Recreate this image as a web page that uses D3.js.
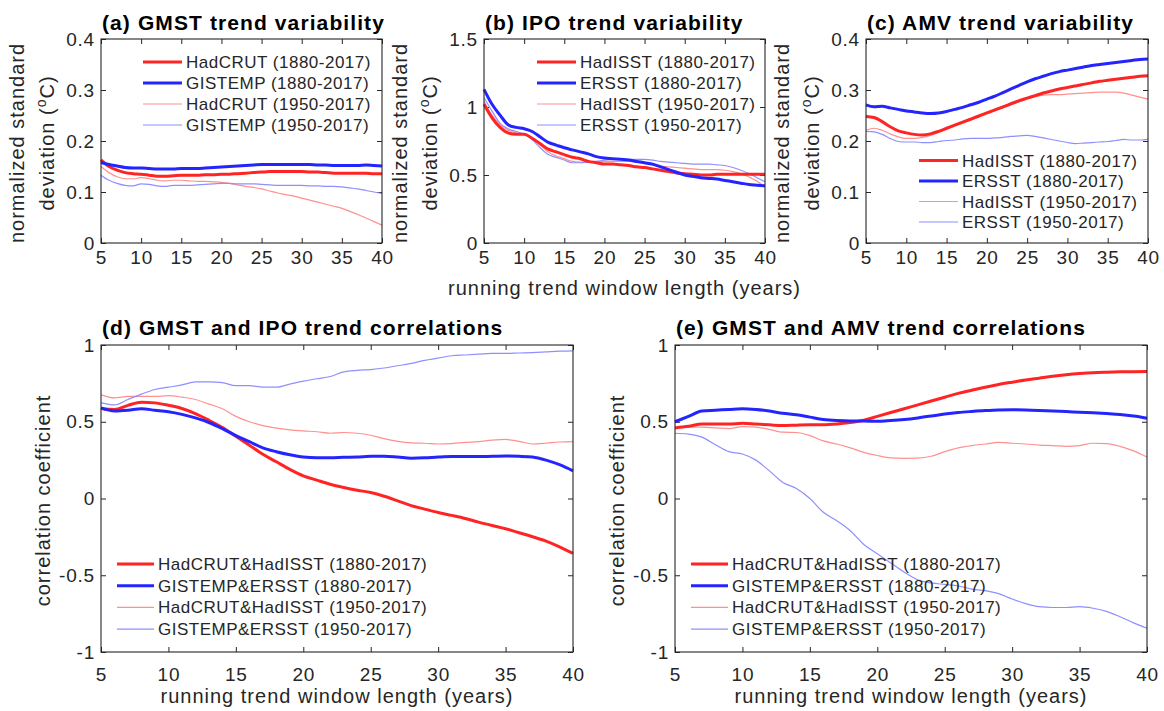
<!DOCTYPE html>
<html>
<head>
<meta charset="utf-8">
<script src="https://cdn.jsdelivr.net/npm/d3@7"></script>
<style>
  body { margin: 0; background: #fff; }
  svg { display: block; font-family: "Liberation Sans", Arial, Helvetica, sans-serif; }
  .tick text { fill: #262626; }
</style>
</head>
<body>
<script>
// window lengths (years)
const YEARS = [5, 6, 7, 8, 9, 10, 11, 12, 13, 14, 15, 16, 17, 18, 19, 20, 21, 22,
  23, 24, 25, 26, 27, 28, 29, 30, 31, 32, 33, 34, 35, 36, 37, 38, 39, 40];
const X_TICKS = [5, 10, 15, 20, 25, 30, 35, 40];

// (a) GMST trend variability
const A_HADCRUT_1880 = [.163, .150, .143, .138, .136, .135, .133, .131, .131, .132, .133, .133,
  .133, .134, .134, .135, .135, .136, .137, .138, .139, .140, .140, .140,
  .140, .140, .139, .139, .138, .137, .137, .137, .137, .137, .136, .136];
const A_GISTEMP_1880 = [.158, .154, .151, .148, .147, .147, .146, .145, .145, .145, .146, .146,
  .146, .147, .148, .149, .150, .151, .152, .153, .154, .154, .154, .154,
  .154, .154, .154, .153, .153, .152, .152, .152, .152, .153, .152, .151];
const A_HADCRUT_1950 = [.150, .138, .130, .126, .126, .128, .126, .123, .122, .123, .123, .122,
  .121, .121, .120, .119, .117, .114, .111, .109, .106, .102, .098, .095,
  .092, .088, .084, .080, .076, .072, .068, .062, .056, .049, .042, .035];
const A_GISTEMP_1950 = [.133, .123, .117, .113, .112, .116, .115, .112, .111, .113, .113, .113,
  .114, .115, .116, .117, .117, .116, .116, .116, .115, .114, .113, .113,
  .113, .113, .112, .112, .111, .111, .110, .108, .106, .103, .100, .097];

// (b) IPO trend variability
const B_HADISST_1880 = [1.02, .92, .85, .81, .80, .80, .77, .73, .69, .67, .65, .63,
  .62, .60, .59, .58, .58, .575, .57, .56, .555, .545, .535, .525,
  .515, .51, .505, .50, .50, .505, .505, .505, .505, .505, .505, .505];
const B_ERSST_1880 = [1.13, 1.02, .94, .87, .85, .84, .82, .78, .74, .72, .70, .685,
  .67, .655, .635, .625, .62, .615, .61, .60, .59, .58, .56, .54,
  .52, .50, .49, .48, .475, .47, .46, .45, .44, .43, .425, .42];
const B_HADISST_1950 = [1.04, .94, .87, .83, .81, .80, .77, .72, .67, .64, .62, .60,
  .595, .595, .60, .60, .60, .60, .60, .595, .585, .575, .565, .56,
  .555, .55, .545, .54, .54, .54, .535, .525, .51, .485, .455, .41];
const B_ERSST_1950 = [1.07, .97, .88, .84, .82, .80, .76, .70, .65, .63, .61, .59,
  .59, .595, .60, .61, .615, .615, .615, .615, .615, .61, .60, .595,
  .59, .585, .58, .58, .58, .575, .57, .555, .535, .51, .48, .45];

// (c) AMV trend variability
const C_HADISST_1880 = [.248, .246, .238, .228, .220, .216, .213, .212, .214, .219, .225, .231,
  .237, .243, .249, .255, .261, .267, .273, .279, .284, .289, .294, .298,
  .302, .305, .308, .311, .314, .317, .319, .321, .323, .325, .327, .328];
const C_ERSST_1880 = [.271, .267, .268, .265, .262, .259, .257, .255, .254, .255, .258, .262,
  .266, .271, .276, .282, .288, .295, .302, .309, .316, .322, .327, .332,
  .336, .339, .342, .345, .348, .350, .352, .354, .356, .358, .360, .361];
const C_HADISST_1950 = [.221, .225, .221, .214, .208, .205, .205, .207, .211, .217, .223, .229,
  .235, .241, .247, .253, .259, .265, .271, .277, .282, .287, .290, .291,
  .291, .292, .293, .294, .295, .296, .296, .296, .294, .290, .286, .282];
const C_ERSST_1950 = [.219, .218, .213, .205, .199, .198, .198, .197, .197, .199, .201, .202,
  .204, .205, .205, .205, .206, .207, .209, .210, .211, .209, .206, .203,
  .200, .197, .195, .196, .197, .198, .199, .201, .203, .202, .202, .203];

// (d) GMST and IPO trend correlations
const D_HAD_1880 = [.586, .58, .607, .627, .623, .607, .586, .553, .51, .462, .405, .347,
  .288, .239, .19, .148, .12, .093, .072, .054, .039, .015, -.015, -.046,
  -.069, -.091, -.11, -.13, -.154, -.176, -.197, -.223, -.249, -.278, -.315, -.358];
const D_GIS_1880 = [.59, .57, .575, .585, .575, .565, .548, .525, .495, .455, .41, .37,
  .33, .305, .285, .27, .265, .265, .268, .27, .275, .275, .27, .263,
  .265, .27, .273, .273, .273, .275, .277, .275, .27, .25, .22, .18];
const D_HAD_1950 = [.675, .655, .665, .665, .665, .67, .66, .645, .615, .585, .535, .50,
  .475, .458, .447, .44, .435, .425, .43, .425, .412, .39, .372, .362,
  .36, .355, .358, .365, .37, .38, .385, .372, .355, .36, .368, .37];
const D_GIS_1950 = [.625, .61, .645, .68, .71, .725, .74, .76, .76, .755, .735, .735,
  .725, .725, .745, .765, .78, .795, .825, .835, .84, .85, .865, .88,
  .90, .915, .93, .935, .94, .945, .945, .948, .95, .955, .96, .962];

// (e) GMST and AMV trend correlations
const E_HAD_1880 = [.46, .47, .485, .485, .485, .49, .485, .48, .475, .478, .48, .48,
  .485, .495, .51, .535, .56, .585, .61, .635, .66, .685, .705, .725,
  .743, .758, .772, .784, .796, .806, .814, .82, .823, .825, .826, .827];
const E_GIS_1880 = [.50, .535, .57, .575, .58, .585, .58, .57, .555, .545, .53, .515,
  .508, .505, .505, .503, .508, .515, .525, .537, .55, .56, .567, .573,
  .577, .578, .577, .574, .57, .566, .562, .558, .553, .547, .537, .523];
const E_HAD_1950 = [.46, .465, .465, .46, .455, .468, .465, .45, .432, .43, .41, .375,
  .355, .33, .30, .28, .265, .262, .263, .275, .305, .33, .345, .355,
  .365, .36, .355, .348, .345, .34, .345, .36, .358, .34, .31, .27];
const E_GIS_1950 = [.425, .42, .40, .35, .305, .29, .25, .18, .105, .065, 0, -.09,
  -.145, -.21, -.30, -.36, -.42, -.48, -.53, -.55, -.56, -.57, -.59, -.60,
  -.62, -.655, -.685, -.705, -.71, -.71, -.705, -.715, -.735, -.77, -.81, -.845];

const SD_TICKS = [0, 0.1, 0.2, 0.3, 0.4];
const IPO_TICKS = [0, 0.5, 1, 1.5];
const R_TICKS = [-1, -0.5, 0, 0.5, 1];

const STYLES = [
  {color: '#ff2424', width: 3},
  {color: '#2424ff', width: 3},
  {color: '#ff9090', width: 1.2},
  {color: '#8f8fff', width: 1.2}
];
const INK = '#262626';

const panels = [
  {title: '(a) GMST trend variability', x0: 101, x1: 382, y0: 39, y1: 243, titleY: 30,
    domain: [0, 0.4], ticks: SD_TICKS,
    names: ['HadCRUT (1880-2017)', 'GISTEMP (1880-2017)', 'HadCRUT (1950-2017)', 'GISTEMP (1950-2017)'],
    series: [A_HADCRUT_1880, A_GISTEMP_1880, A_HADCRUT_1950, A_GISTEMP_1950],
    legend: {x: 143, y: 62, dy: 21, len: 39}, ylab: 'sd', xTickY: 264},
  {title: '(b) IPO trend variability', x0: 484, x1: 765, y0: 39, y1: 243, titleY: 30,
    domain: [0, 1.5], ticks: IPO_TICKS,
    names: ['HadISST (1880-2017)', 'ERSST (1880-2017)', 'HadISST (1950-2017)', 'ERSST (1950-2017)'],
    series: [B_HADISST_1880, B_ERSST_1880, B_HADISST_1950, B_ERSST_1950],
    legend: {x: 537, y: 62, dy: 21, len: 39}, ylab: 'sd', xTickY: 264,
    xlab: {y: 295}},
  {title: '(c) AMV trend variability', x0: 866, x1: 1148, y0: 39, y1: 243, titleY: 30,
    domain: [0, 0.4], ticks: SD_TICKS,
    names: ['HadISST (1880-2017)', 'ERSST (1880-2017)', 'HadISST (1950-2017)', 'ERSST (1950-2017)'],
    series: [C_HADISST_1880, C_ERSST_1880, C_HADISST_1950, C_ERSST_1950],
    legend: {x: 919, y: 160.5, dy: 20.5, len: 39}, ylab: 'sd', xTickY: 264},
  {title: '(d) GMST and IPO trend correlations', x0: 101, x1: 573, y0: 345, y1: 652, titleY: 335,
    domain: [-1, 1], ticks: R_TICKS,
    names: ['HadCRUT&HadISST (1880-2017)', 'GISTEMP&ERSST (1880-2017)', 'HadCRUT&HadISST (1950-2017)', 'GISTEMP&ERSST (1950-2017)'],
    series: [D_HAD_1880, D_GIS_1880, D_HAD_1950, D_GIS_1950],
    legend: {x: 117, y: 564, dy: 21.7, len: 37}, ylab: 'r', xTickY: 681,
    xlab: {y: 703}},
  {title: '(e) GMST and AMV trend correlations', x0: 675, x1: 1147, y0: 345, y1: 652, titleY: 335,
    domain: [-1, 1], ticks: R_TICKS,
    names: ['HadCRUT&HadISST (1880-2017)', 'GISTEMP&ERSST (1880-2017)', 'HadCRUT&HadISST (1950-2017)', 'GISTEMP&ERSST (1950-2017)'],
    series: [E_HAD_1880, E_GIS_1880, E_HAD_1950, E_GIS_1950],
    legend: {x: 691, y: 564, dy: 21.7, len: 37}, ylab: 'r', xTickY: 681,
    xlab: {y: 703}}
];

const svg = d3.select('body').append('svg')
  .attr('width', 1164)
  .attr('height', 711);

panels.forEach(p => {
  const x = d3.scaleLinear().domain([5, 40]).range([p.x0, p.x1]);
  const y = d3.scaleLinear().domain(p.domain).range([p.y1, p.y0]);
  const g = svg.append('g');
  const fmt = d => String(d);

  // axes, ticks pointing inward on all four sides
  const axes = [
    [d3.axisBottom(x).tickValues(X_TICKS).tickFormat(fmt), `translate(0,${p.y1})`],
    [d3.axisTop(x).tickValues(X_TICKS).tickFormat(''), `translate(0,${p.y0})`],
    [d3.axisLeft(y).tickValues(p.ticks).tickFormat(fmt), `translate(${p.x0},0)`],
    [d3.axisRight(y).tickValues(p.ticks).tickFormat(''), `translate(${p.x1},0)`]
  ];
  const axisGroups = axes.map(([ax, tr]) => {
    const a = g.append('g')
      .attr('transform', tr)
      .call(ax.tickSizeInner(-5).tickSizeOuter(0).tickPadding(6));
    a.select('.domain').remove();
    a.selectAll('.tick line').attr('stroke', INK).attr('stroke-width', 1);
    a.selectAll('.tick text')
      .style('font-size', '19px')
      .style('letter-spacing', '0.8px');
    return a;
  });
  // bottom tick labels at the measured baseline
  axisGroups[0].selectAll('.tick text')
    .attr('dy', null)
    .attr('y', p.xTickY - p.y1);

  // lines
  const line = (vals) => d3.line()
    .x((d, i) => x(YEARS[i]))
    .y(d => y(d))
    .curve(d3.curveMonotoneX)(vals);

  [2, 3, 0, 1].forEach(k => {
    g.append('path')
      .attr('d', line(p.series[k]))
      .attr('fill', 'none')
      .attr('stroke', STYLES[k].color)
      .attr('stroke-width', STYLES[k].width)
      .attr('stroke-linejoin', 'round');
  });

  // box
  g.append('rect')
    .attr('x', p.x0).attr('y', p.y0)
    .attr('width', p.x1 - p.x0).attr('height', p.y1 - p.y0)
    .attr('fill', 'none').attr('stroke', INK).attr('stroke-width', 1.1);

  // title
  g.append('text')
    .attr('x', p.x0 + 1).attr('y', p.titleY)
    .style('font-size', '21px').style('font-weight', 'bold')
    .style('letter-spacing', '1.1px')
    .attr('fill', '#000')
    .text(p.title);

  // legend
  const lg = g.append('g');
  p.names.forEach((name, k) => {
    const ly = p.legend.y + k * p.legend.dy;
    lg.append('line')
      .attr('x1', p.legend.x).attr('x2', p.legend.x + p.legend.len)
      .attr('y1', ly).attr('y2', ly)
      .attr('stroke', STYLES[k].color).attr('stroke-width', STYLES[k].width);
    lg.append('text')
      .attr('x', p.legend.x + p.legend.len + 4).attr('y', ly + 6)
      .style('font-size', '17px').style('letter-spacing', '0.5px')
      .attr('fill', INK)
      .text(name);
  });

  // y label
  const cy = (p.y0 + p.y1) / 2;
  if (p.ylab === 'sd') {
    g.append('text')
      .attr('transform', `translate(${p.x0 - 84 + 7},${cy + 2}) rotate(-90)`)
      .attr('text-anchor', 'middle')
      .style('font-size', '20px').style('letter-spacing', '1px')
      .attr('fill', INK)
      .text('normalized standard');
    const t2 = g.append('text')
      .attr('transform', `translate(${p.x0 - 54 + 7},${cy + 2}) rotate(-90)`)
      .attr('text-anchor', 'middle')
      .style('font-size', '20px').style('letter-spacing', '1px')
      .attr('fill', INK);
    t2.append('tspan').text('deviation (');
    t2.append('tspan').attr('dy', -8).style('font-size', '14px').text('o');
    t2.append('tspan').attr('dy', 8).text('C)');
  } else {
    g.append('text')
      .attr('transform', `translate(${p.x0 - 58 + 7},${cy + 2}) rotate(-90)`)
      .attr('text-anchor', 'middle')
      .style('font-size', '20px').style('letter-spacing', '1px')
      .attr('fill', INK)
      .text('correlation coefficient');
  }

  // x label
  if (p.xlab) {
    g.append('text')
      .attr('x', (p.x0 + p.x1) / 2).attr('y', p.xlab.y)
      .attr('text-anchor', 'middle')
      .style('font-size', '20px').style('letter-spacing', '1px')
      .attr('fill', INK)
      .text('running trend window length (years)');
  }
});
</script>
</body>
</html>
